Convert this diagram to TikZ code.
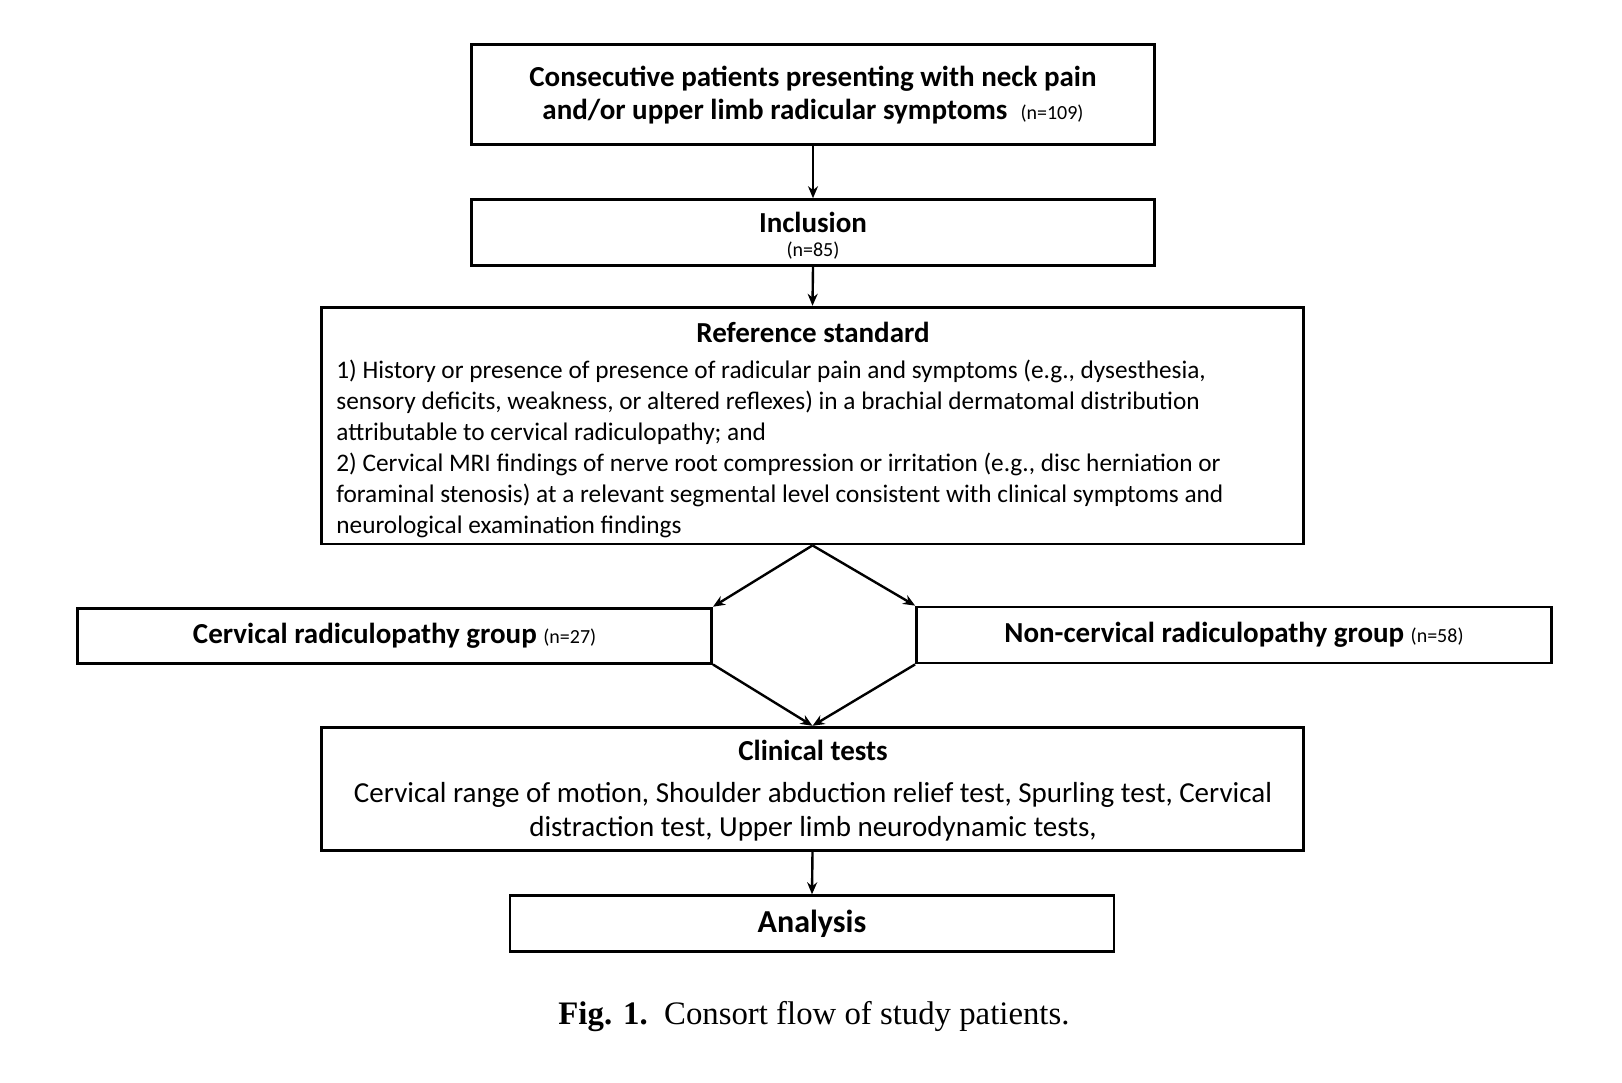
\documentclass[tikz,border=0pt]{standalone}
\usepackage{fontspec}
\setmainfont{Carlito}
\newfontfamily\capfont{Liberation Serif}
\usetikzlibrary{arrows.meta}
\begin{document}
\begin{tikzpicture}[x=0.5pt,y=-0.5pt,
  box/.style={draw,line width=1.4pt,inner sep=0pt,align=center},
  conn/.style={line width=1.2pt,-{Stealth[length=6pt,width=5pt]}},
  head/.style={font=\fontsize{14.5}{16.5}\selectfont\bfseries},
]
\useasboundingbox (0,0) rectangle (1622,1082);
\fill[white] (0,0) rectangle (1622,1082);
\newcommand\nsmall[1]{{\mdseries\fontsize{10}{11}\selectfont #1}}

\node[box,head,minimum width=341.4pt,minimum height=50pt] (b1) at (813,94.6)
  {Consecutive patients presenting with neck pain\\and/or upper limb radicular symptoms~~\nsmall{(n=109)}};

\node[box,minimum width=341.4pt,minimum height=33.1pt] (b2) at (813,232.7) {};
\node[head,inner sep=0pt] (b2t) at (813,222.5) {Inclusion};
\node[inner sep=0pt] (b2n) at (813,250.5) {\nsmall{(n=85)}};

\node[box,minimum width=490.9pt,minimum height=118.4pt] (b3) at (812.5,425.6) {};
\node[head,inner sep=0pt] (b3t) at (813,332) {Reference standard};
\node[font=\fontsize{12.65}{15.5}\selectfont,align=left,anchor=west,inner sep=0pt] (b3b) at (336,449)
  {1) History or presence of presence of radicular pain and symptoms (e.g., dysesthesia,\\
   sensory deficits, weakness, or altered reflexes) in a brachial dermatomal distribution\\
   attributable to cervical radiculopathy; and\\
   2) Cervical MRI findings of nerve root compression or irritation (e.g., disc herniation or\\
   foraminal stenosis) at a relevant segmental level consistent with clinical symptoms and\\
   neurological examination findings};

\node[box,head,minimum width=317pt,minimum height=27.5pt] (gl) at (394.6,635.6)
  {Cervical radiculopathy group \nsmall{(n=27)}};
\node[box,head,minimum width=317.5pt,minimum height=28pt] (gr) at (1234,635)
  {Non-cervical radiculopathy group \nsmall{(n=58)}};

\node[box,minimum width=490.9pt,minimum height=61.5pt] (ct) at (812.5,788.7) {};
\node[head,inner sep=0pt] (ctt) at (813,750) {Clinical tests};
\node[font=\fontsize{14.5}{17}\selectfont,align=center,inner sep=0pt] (ctb) at (813,811.5)
  {Cervical range of motion, Shoulder abduction relief test, Spurling test, Cervical\\
   distraction test, Upper limb neurodynamic tests,};

\node[box,minimum width=302pt,minimum height=28pt,font=\fontsize{16}{17}\selectfont\bfseries] (an) at (812,923.7) {Analysis};

\node[font=\capfont\fontsize{16.4}{18}\selectfont,inner sep=0pt] (cap) at (814,1016.5)
  {\textbf{Fig. 1.}\ \ Consort flow of study patients.};

\draw[conn] (b1.south) -- (b2.north);
\draw[conn] (b2.south) -- (b3.north);
\draw[conn] (b3.south) -- (gl.north east);
\draw[conn] (b3.south) -- (gr.north west);
\draw[conn] (gl.south east) -- (ct.north);
\draw[conn] (gr.south west) -- (ct.north);
\draw[conn] (ct.south) -- (an.north);
\end{tikzpicture}
\end{document}
